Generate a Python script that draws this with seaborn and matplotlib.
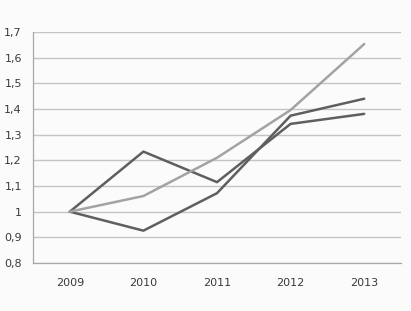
import matplotlib
matplotlib.use("Agg")
import matplotlib.pyplot as plt
import seaborn as sns
import pandas as pd
import numpy as np

years = ["2009", "2010", "2011", "2012", "2013"]
series_a = [1.0, 1.234, 1.115, 1.342, 1.381]   # dark, peak in 2010
series_b = [1.0, 0.926, 1.072, 1.374, 1.440]   # dark, trough in 2010
series_c = [1.0, 1.061, 1.210, 1.396, 1.653]   # light gray
y_ticks = [0.8, 0.9, 1.0, 1.1, 1.2, 1.3, 1.4, 1.5, 1.6, 1.7]
y_tick_labels = ["0,8", "0,9", "1", "1,1", "1,2", "1,3", "1,4", "1,5", "1,6", "1,7"]

sns.set_style("white")
plt.rcParams['font.family'] = ['DejaVu Sans']

df = pd.DataFrame({
    "pos": list(range(len(years))) * 3,
    "value": series_a + series_b + series_c,
    "series": ["A"] * 5 + ["B"] * 5 + ["C"] * 5,
})

fig = plt.figure(figsize=(4.11, 3.11), dpi=100)
fig.patch.set_facecolor("#fbfbfb")
ax = fig.add_axes([33 / 411, 48 / 311, 368 / 411, 231 / 311])
ax.set_facecolor("#fbfbfb")

palette = {"A": "#5f5f5f", "B": "#5f5f5f", "C": "#a3a3a3"}
sns.lineplot(data=df, x="pos", y="value", hue="series", palette=palette,
             linewidth=1.8, legend=False, ax=ax, zorder=3)

ax.set_xlim(-0.5, len(years) - 0.5)
ax.set_ylim(0.8, 1.7)
ax.set_yticks(y_ticks)
ax.set_yticklabels(y_tick_labels)
ax.set_xticks(range(len(years)))
ax.set_xticklabels(years)
ax.set_xticks(np.arange(-0.5, len(years)), minor=True)
ax.tick_params(axis="x", which="major", length=0, pad=11, labelsize=8, colors="#3a3a3a")
ax.tick_params(axis="x", which="minor", length=4, width=0.8, color="#a0a0a0", direction="out")
ax.tick_params(axis="y", length=4, width=0.8, color="#a0a0a0", labelsize=8,
               labelcolor="#3a3a3a", pad=4, direction="out")
ax.set_xlabel("")
ax.set_ylabel("")
ax.grid(axis="y", color="#c4c4c4", linewidth=1.0, zorder=0)
for s in ["top", "right"]:
    ax.spines[s].set_visible(False)
for s in ["left", "bottom"]:
    ax.spines[s].set_color("#a8a8a8")
    ax.spines[s].set_linewidth(0.9)

fig.savefig("out.png", dpi=100, facecolor=fig.get_facecolor())
